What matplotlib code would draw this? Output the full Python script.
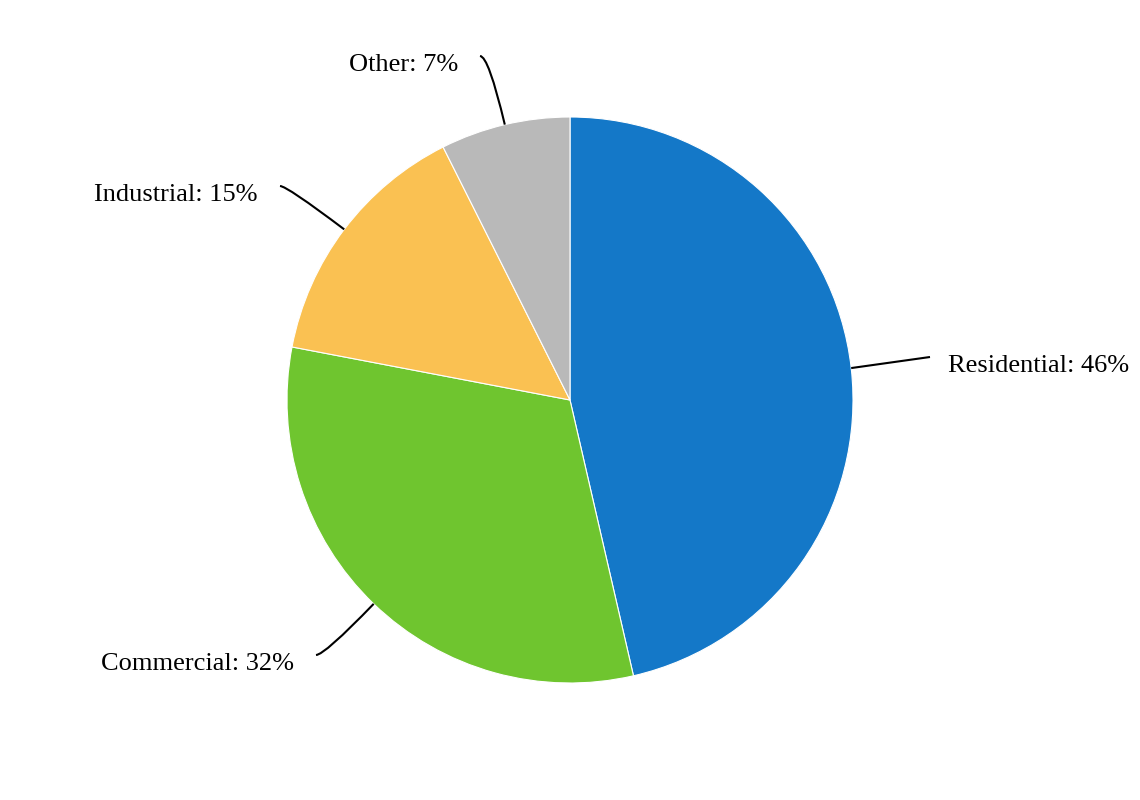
import numpy as np
import matplotlib; matplotlib.use("Agg")
import matplotlib.pyplot as plt
from matplotlib.path import Path
from matplotlib.patches import PathPatch

categories = ["Residential", "Commercial", "Industrial", "Other"]
shares = [46.4, 31.6, 14.6, 7.4]
colors = ["#1478C8", "#6FC52F", "#FAC152", "#B9B9B9"]

# layout in pixel-like data coords (y up): pie centre/radius and label anchors
CX, CY, R = 570, 400, 283
LABEL_AT = {"Residential": (930, 443, "left"), "Commercial": (316, 145, "right"),
            "Industrial": (280, 614, "right"), "Other": (480, 744, "right")}

plt.rcParams["font.family"] = ["Liberation Serif", "DejaVu Serif"]
fig = plt.figure(figsize=(11.4, 8), dpi=100)
ax = fig.add_axes([0, 0, 1, 1])

wedges, _ = ax.pie(shares, colors=colors, startangle=90, counterclock=False,
                   center=(CX, CY), radius=R, frame=True,
                   wedgeprops=dict(edgecolor="white", linewidth=0.8))
ax.set_xlim(0, 1140); ax.set_ylim(0, 800); ax.set_aspect("equal"); ax.axis("off")

for w, name, v in zip(wedges, categories, shares):
    mid = np.deg2rad((w.theta1 + w.theta2) / 2)
    ux, uy = np.cos(mid), np.sin(mid)
    sx, sy = CX + R * ux, CY + R * uy
    ex, ey, ha = LABEL_AT[name]
    if abs(uy) > 0.3:
        t = (ey - sy) / uy
        cx, cy = sx + t * ux, ey
    else:
        cx, cy = (sx + ex) / 2, (sy + ey) / 2
    path = Path([(sx, sy), (cx, cy), (ex, ey)], [Path.MOVETO, Path.CURVE3, Path.CURVE3])
    ax.add_patch(PathPatch(path, fill=False, color="black", lw=1.5, zorder=3))
    tx = ex + 18 if ha == "left" else ex - 22
    ax.text(tx, ey - 9, f"{name}: {round(v)}%", ha=ha, va="center", fontsize=19, color="black")

fig.savefig("out.png", dpi=100, facecolor="white")
